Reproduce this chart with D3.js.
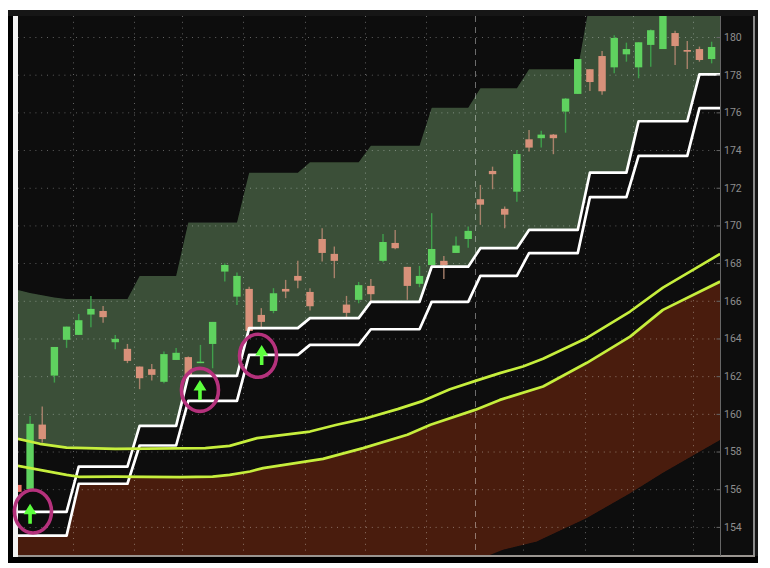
<!DOCTYPE html>
<html><head><meta charset="utf-8">
<script src="https://cdn.jsdelivr.net/npm/d3@7/dist/d3.min.js"></script>
<style>html,body{margin:0;padding:0;background:#fff}svg{display:block}</style>
</head><body><svg id="c" width="770" height="568"></svg>
<script>
const opens=[156.23,156.01,159.43,162.03,163.93,164.19,165.27,165.46,163.80,163.45,162.51,162.37,161.70,162.86,163.01,162.72,163.71,167.55,166.22,166.63,165.25,165.46,166.63,167.32,166.47,169.28,168.49,165.80,166.05,166.79,168.12,169.07,167.80,166.90,167.90,168.12,168.54,169.28,171.39,172.89,170.88,171.79,174.57,174.63,174.82,176.04,176.98,178.29,178.99,178.39,179.08,178.39,179.58,179.36,180.21,179.31,179.36,178.83];
const closes=[155.86,159.47,158.66,163.55,164.63,164.97,165.57,165.13,163.98,162.81,161.89,162.07,163.17,163.24,162.07,162.77,164.88,167.90,167.32,164.40,164.88,166.40,166.49,167.07,165.71,168.54,168.12,165.36,166.83,166.35,169.12,168.79,166.79,167.32,168.75,167.90,168.93,169.71,171.10,172.72,170.57,173.79,174.13,174.82,174.63,176.73,178.83,177.61,177.12,179.95,179.36,179.72,180.36,181.43,179.52,179.22,178.78,179.47];
const highs=[156.23,159.89,160.39,163.55,164.63,165.30,166.26,165.73,164.18,163.71,162.51,162.65,163.31,163.49,163.05,163.66,164.88,167.99,167.50,166.75,165.61,166.67,167.11,168.13,166.67,169.85,168.88,166.26,167.00,167.16,169.55,169.76,167.80,167.85,170.65,168.38,169.41,169.94,172.15,173.12,171.00,174.00,175.07,175.03,174.85,176.76,178.83,178.29,179.26,180.09,179.70,179.72,180.40,181.60,180.33,179.79,179.49,179.75];
const lows=[155.86,156.01,158.48,161.66,163.50,164.19,164.60,164.84,163.43,162.69,161.31,161.77,161.63,162.86,161.98,162.69,162.42,167.02,165.78,164.40,164.56,165.34,166.14,166.67,165.48,168.08,167.20,165.13,165.87,165.96,168.05,168.74,166.05,166.72,167.90,167.16,168.54,168.82,170.03,171.92,169.85,171.26,173.92,174.13,173.78,174.92,176.98,177.14,176.94,178.07,178.69,177.81,178.42,179.36,178.51,178.30,178.69,178.60];

const stepIdx=[0,4,5,9,10,13,14,18,19,23,24,28,29,33,34,37,38,41,42,46,47,50,51,55,56,57.7];
const upperStop=[154.80,154.80,157.20,157.20,159.36,159.36,162.02,162.02,164.55,164.55,165.08,165.08,165.94,165.94,167.81,167.81,168.79,168.79,169.76,169.76,172.80,172.80,175.53,175.53,178.02,178.02];
const lowerStop=[153.54,153.54,156.29,156.29,158.32,158.32,160.69,160.69,163.13,163.13,163.66,163.66,164.49,164.49,165.94,165.94,167.32,167.32,168.53,168.53,171.50,171.50,173.69,173.69,176.22,176.22];

const cloudIdx=[0,1,2,3,4,9,10,13,14,18,19,23,24,28,29,33,34,37,38,41,42,46,47,57.7];
const cloudTop=[166.58,166.42,166.29,166.18,166.10,166.10,167.32,167.32,170.15,170.15,172.80,172.80,173.35,173.35,174.23,174.23,176.25,176.25,177.28,177.28,178.29,178.29,181.9,181.9];

const maUpperIdx=[0,1.8,4,8,15.4,17.4,19.65,24,26.2,28.4,31.2,33.3,35.5,37.6,39.6,41.5,43.15,46.75,50.3,53,57.7];
const maUpper=[158.67,158.41,158.21,158.14,158.18,158.30,158.71,159.06,159.42,159.73,160.25,160.69,161.31,161.75,162.16,162.51,162.92,164.03,165.43,166.70,168.49];
const maLowerIdx=[0,4,5,8,13.3,16,17.4,19.07,20.14,25.07,28.36,32,33.9,37.56,39.6,43.15,46.75,50.3,53,57.7];
const maLower=[157.24,156.76,156.66,156.67,156.64,156.67,156.76,156.94,157.12,157.61,158.18,158.89,159.42,160.21,160.74,161.45,162.71,164.10,165.52,167.02];

const floorIdx=[0,38.4,39.86,42.65,46.75,50.3,53,57.7];
const floorVal=[152.2,152.41,152.79,153.23,154.47,155.79,156.87,158.62];

const gridIdx=[4.53,9.54,13.48,18.5,23.59,28.52,33.53,41.5,46.57,50.52,55.47];
const sessionIdx=[37.53];
const tickVals=[154,156,158,160,162,164,166,168,170,172,174,176,178,180];

const arrowIdx=[1,14.96,20.03];
const arrowTip=[155.23,161.80,163.66];
const ringIdx=[1.24,14.96,19.73];
const ringVal=[154.82,161.27,163.08];

const svg=d3.select('#c');
const x=d3.scaleLinear().domain([0,57.69]).range([17.9,720]);
const y=d3.scaleLinear().domain([154,180]).range([526.9,37]);
const L=18,R=720,T=16,B=556;

const defs=svg.append('defs');
const soft=defs.append('filter').attr('id','soft').attr('filterUnits','userSpaceOnUse')
  .attr('x',0).attr('y',0).attr('width',770).attr('height',568);
soft.append('feGaussianBlur').attr('stdDeviation',0.45);

const root=svg.append('g').attr('filter','url(#soft)');

// frame
root.append('rect').attr('x',8).attr('y',10).attr('width',750).attr('height',553).attr('fill','#141414');
root.append('rect').attr('x',8).attr('y',556).attr('width',750).attr('height',7).attr('fill','#050505');
root.append('rect').attr('x',8).attr('y',16).attr('width',5).attr('height',541).attr('fill','#050505');
root.append('rect').attr('x',L).attr('y',T).attr('width',735).attr('height',B-T).attr('fill','#0b0b0b');
root.append('rect').attr('x',13).attr('y',T).attr('width',5).attr('height',B-T+1).attr('fill','#f2f2f2');
root.append('rect').attr('x',753).attr('y',T).attr('width',2).attr('height',B-T+1).attr('fill','#8c8c8c');
root.append('rect').attr('x',L).attr('y',B-1).attr('width',737).attr('height',2).attr('fill','#9a9590');

defs.append('clipPath').attr('id','plot').append('rect').attr('x',L).attr('y',T).attr('width',R-L).attr('height',B-T-1);
const under=(xs,ys)=>d3.area().x((d,i)=>x(xs[i])).y0(y(150)).y1((d,i)=>y(ys[i]))(xs);
defs.append('clipPath').attr('id','belowLower').append('path').attr('d',under(stepIdx,lowerStop));

const g=root.append('g').attr('clip-path','url(#plot)');
// cloud, then black under the higher of stop / average lines
g.append('path').attr('d',under(cloudIdx,cloudTop)).attr('fill','#3a4f38');
g.append('path').attr('d',under(maUpperIdx,maUpper)).attr('fill','#0b0b0b');
g.append('path').attr('d',under(stepIdx,upperStop)).attr('fill','#0b0b0b');
// brown band: below lower average, above floor, below lower stop
const bandIdx=Array.from(new Set([...maLowerIdx,...floorIdx])).sort((a,b)=>a-b);
const interp=(xs,ys)=>d3.scaleLinear().domain(xs).range(ys);
const mlF=interp(maLowerIdx,maLower), flF=interp(floorIdx,floorVal);
const bandG=g.append('g').attr('clip-path','url(#belowLower)');
bandG.append('path').attr('fill','#4a1e0e')
  .attr('d',d3.area().x(d=>x(d)).y0(d=>y(flF(d))).y1(d=>y(mlF(d)))(bandIdx));

// grid
const grid=g.append('g');
grid.selectAll('line.h').data(tickVals).join('line').attr('class','h')
  .attr('x1',L).attr('x2',R).attr('y1',d=>y(d)+.5).attr('y2',d=>y(d)+.5)
  .attr('stroke','#fff').attr('stroke-opacity',.36).attr('stroke-dasharray','1 4.8');
grid.selectAll('line.v').data(gridIdx).join('line').attr('class','v')
  .attr('x1',d=>Math.round(x(d))+.5).attr('x2',d=>Math.round(x(d))+.5).attr('y1',T).attr('y2',B)
  .attr('stroke','#fff').attr('stroke-opacity',.36).attr('stroke-dasharray','1 4.8');
grid.selectAll('line.s').data(sessionIdx).join('line').attr('class','s')
  .attr('x1',d=>Math.round(x(d))+.5).attr('x2',d=>Math.round(x(d))+.5).attr('y1',T).attr('y2',B)
  .attr('stroke','#fff').attr('stroke-opacity',.4).attr('stroke-dasharray','6 5');

// candles
const idx=d3.range(opens.length);
const up=i=>closes[i]>=opens[i];
const wickCol=i=>up(i)?'#3f9f4c':'#a8816b';
const bodyCol=i=>i===0?'#ee7566':(up(i)?'#5ed25e':'#d8917a');
const bw=7.4;
g.selectAll('line.w').data(idx).join('line').attr('class','w')
  .attr('x1',i=>x(i)).attr('x2',i=>x(i)).attr('y1',i=>y(highs[i])).attr('y2',i=>y(lows[i]))
  .attr('stroke',wickCol).attr('stroke-width',1.4);
g.selectAll('rect.b').data(idx).join('rect').attr('class','b')
  .attr('x',i=>x(i)-bw/2).attr('width',bw)
  .attr('y',i=>y(Math.max(opens[i],closes[i])))
  .attr('height',i=>Math.max(1.5,Math.abs(y(opens[i])-y(closes[i]))))
  .attr('fill',bodyCol);

// lines
const mk=(xs,ys,col,w)=>g.append('path').attr('fill','none').attr('stroke',col).attr('stroke-width',w)
  .attr('stroke-linejoin','round')
  .attr('d',d3.line().x((d,i)=>x(xs[i])).y((d,i)=>y(ys[i]))(xs));
mk(stepIdx,upperStop,'#ffffff',2.7);
mk(stepIdx,lowerStop,'#ffffff',2.7);
mk(maUpperIdx,maUpper,'#c6ee3c',2.7);
mk(maLowerIdx,maLower,'#c6ee3c',2.7);

// signal arrows
arrowIdx.forEach((a,i)=>{
  const ax=x(a), ay=y(arrowTip[i]);
  g.append('path').attr('fill','#5bff3c')
   .attr('d',d3.line()([[ax,ay],[ax+6.5,ay+10.5],[ax+1.8,ay+10.5],[ax+1.8,ay+20],[ax-1.8,ay+20],[ax-1.8,ay+10.5],[ax-6.5,ay+10.5]])+'Z');
});
// rings
root.selectAll('ellipse.r').data(ringIdx).join('ellipse').attr('class','r')
  .attr('cx',d=>x(d)).attr('cy',(d,i)=>y(ringVal[i])).attr('rx',18.5).attr('ry',21.5)
  .attr('fill','none').attr('stroke','#b5307c').attr('stroke-width',3.6);

// axis: ticks point inward, labels sit just right of the axis line
const ax=svg.append('g').attr('transform',`translate(${R+.5},0)`)
  .call(d3.axisRight(y).tickValues(tickVals).tickSize(-4).tickPadding(3.5).tickFormat(d3.format('d')));
ax.select('.domain').attr('d',`M0,${T}V${B}`).attr('stroke','#666');
ax.selectAll('.tick line').attr('stroke','#666');
ax.selectAll('.tick text').attr('fill','#8e8e8e').style('font-family','Roboto,sans-serif').style('font-size','10.5px');
</script></body></html>
